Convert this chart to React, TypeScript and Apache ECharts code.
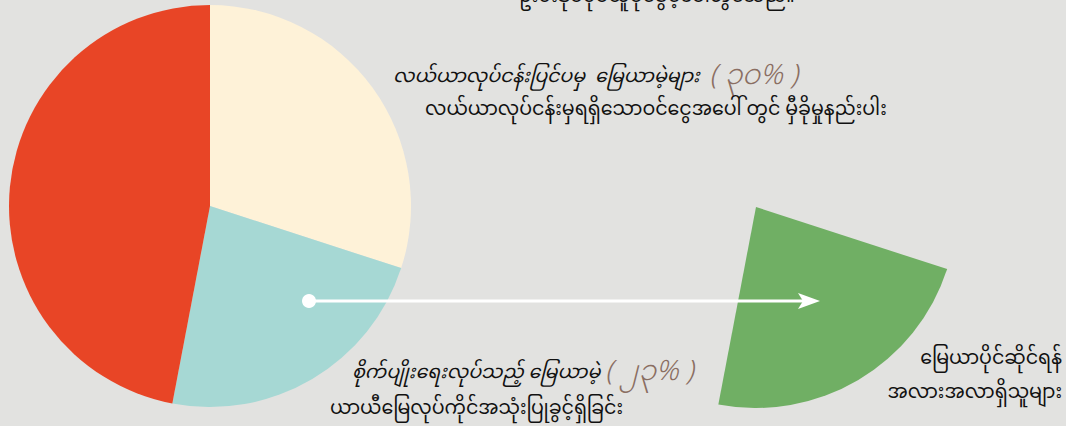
import React, { useEffect, useRef } from "react";
import * as echarts from "echarts";

const categories = [
  "လယ်ယာလုပ်ငန်းပြင်ပမှ  မြေယာမဲ့များ",
  "စိုက်ပျိုးရေးလုပ်သည့် မြေယာမဲ့",
  "other",
];
const values = [30, 23, 47];
const pieColors = ["#FEF2D8", "#A6D8D4", "#E84526"];
const highlightColor = "#70AF64";
const subTitles = [
  "လယ်ယာလုပ်ငန်းမှရရှိသောဝင်ငွေအပေါ် တွင် မှီခိုမှုနည်းပါး",
  "ယာယီမြေလုပ်ကိုင်အသုံးပြုခွင့်ရှိခြင်း",
];
const topNote = "ဦးစီးဒုပ်စုပ်ယူပိုင်ခွင့်ပေါ်တွင်သည်။";
const rightNote = ["မြေယာပိုင်ဆိုင်ရန်", "အလားအလာရှိသူများ"];

const myDigits = (n: number) =>
  String(n).replace(/[0-9]/g, (d) => String.fromCharCode(0x1040 + Number(d)));

const FONT = "'Noto Sans Myanmar', 'Padauk', 'Myanmar Text', 'Noto Sans', sans-serif";

export default function App() {
  const ref = useRef<HTMLDivElement>(null);
  useEffect(() => {
    document.body.style.margin = "0";
    const chart = echarts.init(ref.current!, null, { renderer: "svg" });
    const pieData = categories.map((c, i) => ({
      name: c,
      value: values[i],
      itemStyle: { color: pieColors[i] },
    }));
    const pie2Data = categories.map((c, i) => ({
      name: c,
      value: values[i],
      itemStyle: { color: i === 1 ? highlightColor : "rgba(0,0,0,0)" },
    }));
    const rich = {
      m: { fontFamily: FONT, fontSize: 19, fontStyle: "italic", fill: "#111", lineHeight: 22 },
      s: { fontFamily: FONT, fontSize: 19, fill: "#111", lineHeight: 22 },
      p: {
        fontFamily: FONT,
        fontSize: 28,
        fontStyle: "italic",
        fontWeight: 300,
        fill: "#8A6E62",
        lineHeight: 22,
      },
    };
    const plain = (text: string, x: number, y: number, align = "left", va = "middle") => ({
      type: "text",
      x,
      y,
      style: {
        text,
        fontFamily: FONT,
        fontSize: 19,
        lineHeight: 22,
        fill: "#111",
        align,
        verticalAlign: va,
      },
    });
    chart.setOption({
      animation: false,
      backgroundColor: "#E2E2E0",
      series: [
        {
          type: "pie",
          center: [210, 206],
          radius: [0, 201],
          startAngle: 90,
          clockwise: true,
          label: { show: false },
          labelLine: { show: false },
          emphasis: { disabled: true },
          data: pieData,
        },
        {
          type: "pie",
          center: [756, 207],
          radius: [0, 201],
          startAngle: 90,
          clockwise: true,
          label: { show: false },
          labelLine: { show: false },
          emphasis: { disabled: true },
          silent: true,
          data: pie2Data,
        },
      ],
      graphic: [
        plain(topNote, 657, 8, "center", "bottom"),
        {
          type: "text",
          x: 393,
          y: 77,
          style: {
            text: `{m|${categories[0]}}{s|  }{p|( ${myDigits(values[0])}% )}`,
            rich,
            verticalAlign: "middle",
          },
        },
        plain(subTitles[0], 425, 110),
        {
          type: "text",
          x: 352,
          y: 373,
          style: {
            text: `{m|${categories[1]}}{s| }{p|( ${myDigits(values[1])}% )}`,
            rich,
            verticalAlign: "middle",
          },
        },
        plain(subTitles[1], 330, 409),
        plain(rightNote[0], 1062, 359, "right"),
        plain(rightNote[1], 1062, 393, "right"),
        {
          type: "line",
          shape: { x1: 309, y1: 301, x2: 806, y2: 301 },
          style: { stroke: "#FFFFFF", lineWidth: 3 },
          z: 10,
        },
        {
          type: "circle",
          shape: { cx: 309, cy: 301, r: 7 },
          style: { fill: "#FFFFFF" },
          z: 10,
        },
        {
          type: "polygon",
          shape: { points: [[798, 293], [820, 301], [798, 309], [803, 301]] },
          style: { fill: "#FFFFFF" },
          z: 10,
        },
      ],
    });
    return () => chart.dispose();
  }, []);
  return <div ref={ref} style={{ width: 1066, height: 426 }} />;
}
